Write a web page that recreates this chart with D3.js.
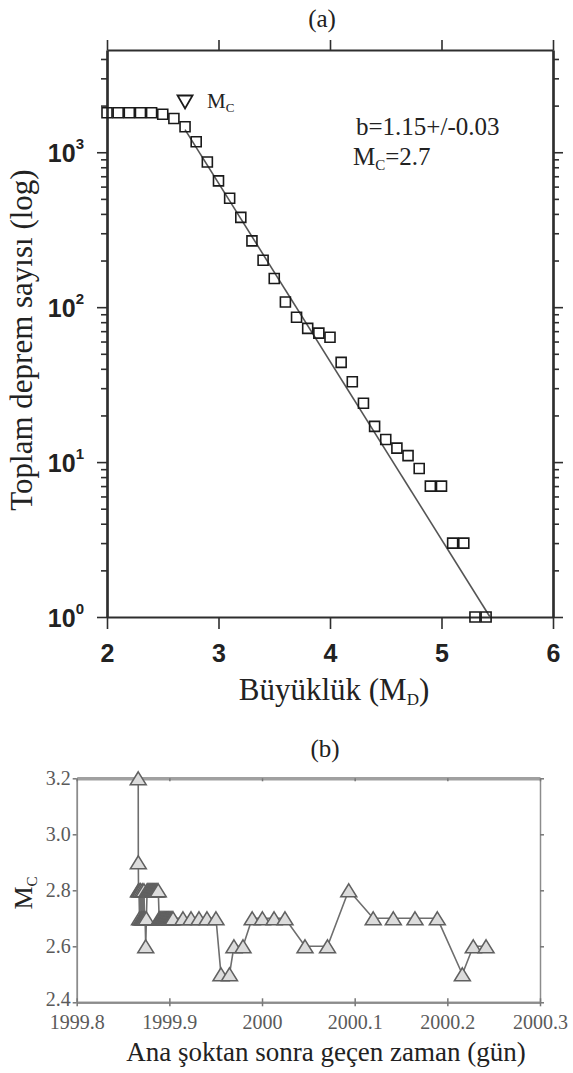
<!DOCTYPE html>
<html><head><meta charset="utf-8">
<script src="https://cdn.jsdelivr.net/npm/d3@7"></script>
<style>body{margin:0;background:#fff} svg{display:block}</style>
</head><body>
<svg id="c" width="573" height="1073"></svg>
<script>
// ---------- Panel (a) data ----------
const magnitudes = [2.0,2.1,2.2,2.3,2.4,2.5,2.6,2.7,2.8,2.9,3.0,3.1,3.2,3.3,3.4,3.5,3.6,3.7,3.8,3.9,4.0,4.1,4.2,4.3,4.4,4.5,4.6,4.7,4.8,4.9,5.0,5.1,5.2,5.3,5.4];
const cumulativeCounts = [1800,1800,1800,1800,1800,1760,1650,1460,1170,865,653,505,380,268,201,153,108,86,73,68,64,44,33,24,17,14,12.3,11,9.1,7,7,3,3,1,1];
const fitMagnitudes = [2.7, 5.435];
const fitCounts = [1400, 1];
const mcMagnitude = 2.7, mcMarkerCount = 2110;
const xTicksA = [2,3,4,5,6];
const yMajorA = [1,10,100,1000];
const yMaxA = Math.pow(10,3.66);

// ---------- Panel (b) data ----------
const mcTimes = [1999.8664,1999.8665,
  1999.8667,1999.8672,1999.8678,1999.8684,1999.8690,1999.8696,1999.8702,1999.8708,1999.8714,1999.8720,1999.8726,1999.8732,1999.8738,
  1999.8745,1999.8752,
  1999.8760,1999.8770,1999.8780,1999.8790,1999.8800,1999.8810,1999.8820,1999.8830,1999.8840,1999.8850,1999.8860,1999.8870,1999.8880,
  1999.8890,1999.8900,1999.8910,1999.8920,1999.8930,1999.8940,1999.8950,1999.8960,1999.8970,1999.8980,1999.8990,1999.9000,1999.9010,1999.9020,1999.9030,1999.9040,
  1999.9147,1999.9234,1999.9320,1999.9406,1999.9503,
  1999.9557,1999.9649,1999.9697,1999.9795,
  1999.9894,2000.0004,2000.0130,2000.0248,
  2000.0464,2000.0707,2000.0936,
  2000.1200,2000.1417,2000.1651,2000.1892,
  2000.2162,2000.2280,2000.2418];
const mcValues = [3.2,2.9,
  2.8,2.8,2.7,2.8,2.8,2.7,2.7,2.8,2.7,2.7,2.8,2.7,2.7,
  2.6,2.7,
  2.8,2.8,2.8,2.8,2.8,2.8,2.8,2.8,2.8,2.8,2.8,2.8,2.8,
  2.7,2.7,2.7,2.7,2.7,2.7,2.7,2.7,2.7,2.7,2.7,2.7,2.7,2.7,2.7,2.7,
  2.7,2.7,2.7,2.7,2.7,
  2.5,2.5,2.6,2.6,
  2.7,2.7,2.7,2.7,
  2.6,2.6,2.8,
  2.7,2.7,2.7,2.7,
  2.5,2.6,2.6];
const xTicksB = [1999.8,1999.9,2000.0,2000.1,2000.2,2000.3];
const yTicksB = [2.4,2.6,2.8,3.0,3.2];

const svg = d3.select("#c");
const SERIF = "'Liberation Serif','Times New Roman',serif";
const SANS = "'Liberation Sans',Arial,sans-serif";

// ================= Panel (a) =================
const xA = d3.scaleLinear().domain([2,6]).range([107,553]);
const yA = d3.scaleLog().domain([1,yMaxA]).range([617,50]);
const gA = svg.append("g");
const axisCol = "#2e2e2e";

const minorA = [];
for (let e=0;e<4;e++) for (let k=2;k<=9;k++){ const v=k*Math.pow(10,e); if (v<yMaxA) minorA.push(v); }

function styleAxis(g, w){ g.selectAll("path.domain").attr("stroke",axisCol).attr("stroke-width",w);
  g.selectAll(".tick line").attr("stroke",axisCol).attr("stroke-width",1.6); }

const gLm = gA.append("g").attr("transform","translate(107,0)")
  .call(d3.axisLeft(yA).tickValues(minorA).tickSize(6).tickSizeOuter(0).tickFormat(""));
styleAxis(gLm,2.2);
const gL = gA.append("g").attr("transform","translate(107,0)")
  .call(d3.axisLeft(yA).tickValues(yMajorA).tickSize(10).tickSizeOuter(0).tickFormat(""));
styleAxis(gL,2.2);
gL.selectAll(".tick").each(function(d){
  const t = d3.select(this).append("text").attr("x",-23).attr("y",9)
    .attr("text-anchor","end").attr("fill","#222").attr("font-family",SANS).attr("font-weight","bold").attr("font-size",25);
  t.append("tspan").text("10");
  t.append("tspan").attr("font-size",15).attr("dy",-13).text(Math.round(Math.log10(d)));
});
const gRm = gA.append("g").attr("transform","translate(553,0)")
  .call(d3.axisRight(yA).tickValues(minorA).tickSize(6).tickSizeOuter(0).tickFormat(""));
styleAxis(gRm,2.2);
const gR = gA.append("g").attr("transform","translate(553,0)")
  .call(d3.axisRight(yA).tickValues(yMajorA).tickSize(10).tickSizeOuter(0).tickFormat(""));
styleAxis(gR,2.2);
const gT = gA.append("g").attr("transform","translate(0,50)")
  .call(d3.axisTop(xA).tickValues(xTicksA).tickSize(10).tickSizeOuter(0).tickFormat(""));
styleAxis(gT,2.2);
const gB = gA.append("g").attr("transform","translate(0,617)")
  .call(d3.axisBottom(xA).tickValues(xTicksA).tickSize(12).tickSizeOuter(0).tickPadding(15).tickFormat(d3.format("d")));
styleAxis(gB,2.2);
gB.selectAll("text").attr("font-family",SANS).attr("font-weight","bold").attr("font-size",25).attr("fill","#222");

gA.append("path")
  .datum(fitMagnitudes.map((m,i)=>[m,fitCounts[i]]))
  .attr("d", d3.line().x(d=>xA(d[0])).y(d=>yA(d[1])))
  .attr("fill","none").attr("stroke","#555").attr("stroke-width",1.6);

gA.selectAll("path.sq").data(magnitudes).join("path").attr("class","sq")
  .attr("transform",(m,i)=>`translate(${xA(m)},${yA(cumulativeCounts[i])})`)
  .attr("d", d3.symbol().type(d3.symbolSquare).size(100)())
  .attr("fill","none").attr("stroke","#1a1a1a").attr("stroke-width",1.6);

const triDown = (w,h)=>`M${-w/2},${-h/2}L${w/2},${-h/2}L0,${h/2}Z`;
gA.append("path").attr("transform",`translate(${xA(mcMagnitude)},${yA(mcMarkerCount)})`)
  .attr("d",triDown(15,13)).attr("fill","none").attr("stroke","#1a1a1a").attr("stroke-width",1.8);
const mcl = gA.append("text").attr("x",xA(mcMagnitude)+22).attr("y",yA(mcMarkerCount)+6)
  .attr("font-family",SERIF).attr("font-size",21).attr("fill","#222");
mcl.append("tspan").text("M"); mcl.append("tspan").attr("font-size",13).attr("dy",4).text("C");

gA.append("text").attr("x",356).attr("y",135).attr("font-family",SERIF).attr("font-size",25).attr("fill","#222")
  .text("b=1.15+/-0.03");
const mct = gA.append("text").attr("x",353).attr("y",165).attr("font-family",SERIF).attr("font-size",25).attr("fill","#222");
mct.append("tspan").text("M"); mct.append("tspan").attr("font-size",15).attr("dy",5).text("C");
mct.append("tspan").attr("dy",-5).text("=2.7");

svg.append("text").attr("x",322).attr("y",27).attr("text-anchor","middle").attr("font-family",SERIF).attr("font-size",25).attr("fill","#222").text("(a)");
const xtA = svg.append("text").attr("x",334).attr("y",700).attr("text-anchor","middle").attr("font-family",SERIF).attr("font-size",31).attr("fill","#222");
xtA.append("tspan").text("Büyüklük (M"); xtA.append("tspan").attr("font-size",17).attr("dy",5).text("D"); xtA.append("tspan").attr("dy",-5).text(")");
svg.append("text").attr("transform","translate(32,340) rotate(-90)").attr("text-anchor","middle")
  .attr("font-family",SERIF).attr("font-size",31).attr("fill","#222").text("Toplam deprem sayısı (log)");

// ================= Panel (b) =================
const xB = d3.scaleLinear().domain([1999.8,2000.3]).range([76.7,540]);
const yB = d3.scaleLinear().domain([2.4,3.2]).range([1002.3,778.3]);
const gBp = svg.append("g");
const grayAx = "#8c8c8c", grayTxt = "#5a5a5a";

function styleB(g,w){ g.selectAll("path.domain").attr("stroke",grayAx).attr("stroke-width",w);
  g.selectAll(".tick line").attr("stroke","#777").attr("stroke-width",1.5);
  g.selectAll("text").attr("font-family",SERIF).attr("font-size",20).attr("fill",grayTxt); }

const bL = gBp.append("g").attr("transform","translate(76.7,0)")
  .call(d3.axisLeft(yB).tickValues(yTicksB).tickSize(4).tickSizeOuter(0).tickPadding(2).tickFormat(d3.format(".1f")));
styleB(bL,1.8);
bL.selectAll(".tick text").filter(d=>d===2.4).attr("y",-3);
const bR = gBp.append("g").attr("transform","translate(540,0)")
  .call(d3.axisRight(yB).tickValues(yTicksB).tickSize(4).tickSizeOuter(0).tickFormat(""));
styleB(bR,1.5);
const bBi = gBp.append("g").attr("transform","translate(0,1002.3)")
  .call(d3.axisTop(xB).tickValues(xTicksB).tickSize(4).tickSizeOuter(0).tickFormat(""));
styleB(bBi,2);
const bB = gBp.append("g").attr("transform","translate(0,1002.3)")
  .call(d3.axisBottom(xB).tickValues(xTicksB).tickSize(4).tickSizeOuter(0).tickPadding(9).tickFormat(d=>String(+d.toFixed(1))));
styleB(bB,2);
const bT = gBp.append("g").attr("transform","translate(0,778.3)")
  .call(d3.axisBottom(xB).tickValues(xTicksB).tickSize(3).tickSizeOuter(0).tickFormat(""));
styleB(bT,3.5);
bT.selectAll("path.domain").attr("stroke","#a0a0a0");

gBp.append("path").datum(mcTimes.map((t,i)=>[t,mcValues[i]]))
  .attr("d", d3.line().x(d=>xB(d[0])).y(d=>yB(d[1])))
  .attr("fill","none").attr("stroke","#6e6e6e").attr("stroke-width",1.6);

const triUp = (w,h)=>`M0,${-h/2}L${w/2},${h/2}L${-w/2},${h/2}Z`;
gBp.selectAll("path.tri").data(mcTimes).join("path").attr("class","tri")
  .attr("transform",(t,i)=>`translate(${xB(t)},${yB(mcValues[i])})`)
  .attr("d",triUp(16,13)).attr("fill","#dcdcdc").attr("stroke","#606060").attr("stroke-width",1.5);

svg.append("text").attr("x",325).attr("y",757).attr("text-anchor","middle").attr("font-family",SERIF).attr("font-size",25).attr("fill","#222").text("(b)");
svg.append("text").attr("x",326).attr("y",1061).attr("text-anchor","middle").attr("font-family",SERIF).attr("font-size",27).attr("fill","#222")
  .text("Ana şoktan sonra geçen zaman (gün)");
const ytB = svg.append("text").attr("transform","translate(32,893) rotate(-90)").attr("text-anchor","middle")
  .attr("font-family",SERIF).attr("font-size",26).attr("fill","#222");
ytB.append("tspan").text("M"); ytB.append("tspan").attr("font-size",15).attr("dy",5).text("C");
</script>
</body></html>
